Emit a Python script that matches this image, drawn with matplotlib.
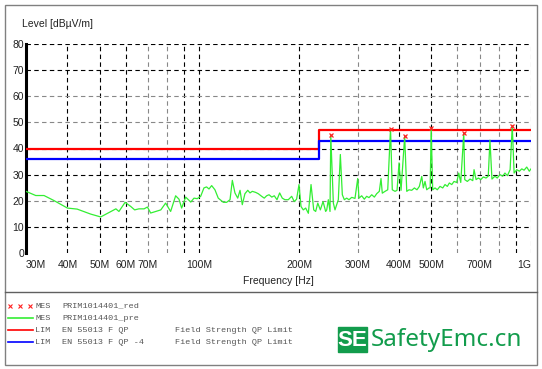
import matplotlib
matplotlib.use('Agg')
import matplotlib.pyplot as plt
from matplotlib.patches import Rectangle
from matplotlib.ticker import NullLocator

plt.rcParams['font.family'] = ['Liberation Sans Narrow', 'Liberation Sans', 'DejaVu Sans']

# pre-scan trace (MHz, dBuV/m)
freq_mhz = [30, 32.1, 34.0, 36.4, 40.0, 42.8, 47.0, 50.4, 54.1, 56.0, 57.2, 59.7, 62.1, 63.8,
            65.7, 68.1, 69.7, 71.3, 73.8, 76.5, 79.1, 81.9, 84.8, 86.8, 88.4, 90.9, 94.2, 96.3,
            98.5, 100.9, 103.2, 105.1, 106.9, 108.9, 111.4, 114.0, 118.1, 120.8, 123.7, 125.7,
            128.0, 130.5, 132.6, 134.7, 137.2, 139.9, 142.1, 144.4, 147.8, 150.5, 154.1, 156.9,
            159.5, 162.2, 165.3, 168.2, 171.4, 174.6, 177.8, 181.1, 185.4, 189.8, 193.2, 196.4,
            199.7, 202.5, 205.7, 209.2, 213.1, 217.1, 221.2, 224.2, 227.5, 231.6, 236.0, 240.3,
            242.1, 244.8, 247.7, 249, 253.5, 256.4, 259.5, 262.4, 266.1, 269.8, 273.6, 278.1,
            282.6, 288.0, 294.6, 300.2, 302.9, 308.6, 314.3, 319.5, 324.7, 330.9, 337.0, 342.5,
            348.8, 352.9, 356.1, 362.9, 369.8, 377, 381.7, 389.0, 394.5, 400, 405.6, 416, 422.0,
            428.7, 436.8, 445.0, 453.0, 460.6, 468.3, 473.5, 479.1, 484.8, 492.6, 496.5, 500,
            505.3, 513.5, 521.7, 531.7, 541.8, 550.5, 559.4, 567.2, 576.8, 586.0, 596.9, 605.5,
            614.0, 627, 631.2, 642.6, 655, 667.4, 673.4, 682.9, 693.8, 705.4, 718.2, 731.7,
            743.2, 752, 762.5, 778.5, 791.0, 806, 821.3, 834.5, 849.0, 865, 878, 889.3, 905.8,
            922.5, 938.0, 953.1, 970.8, 988.3, 1000]
level_db = [23.6, 22.0, 22.0, 20.1, 17.2, 16.8, 14.9, 13.8, 15.9, 16.9, 15.9, 19.4, 17.8, 16.5,
            16.9, 16.9, 17.6, 15.3, 15.9, 16.5, 19.1, 15.9, 21.9, 20.6, 17.2, 21.4, 19.5, 21.0,
            20.8, 21.7, 24.9, 25.3, 24.5, 25.8, 24.2, 21.0, 19.4, 19.4, 20.4, 27.8,
            23.0, 21.0, 24.0, 18.5, 22.7, 24.0, 23.0, 23.6, 23.2, 22.7, 21.7, 21.0,
            21.9, 22.3, 21.4, 21.9, 20.4, 23.0, 21.0, 20.4, 20.4, 21.7, 19.7, 20.6,
            26.2, 17.8, 16.5, 17.2, 15.2, 26.2, 16.5, 15.9, 19.1, 16.5, 19.7, 15.9,
            16.5, 20.4, 15.9, 45.0, 19.1, 16.5, 18.5, 20.4, 37.7, 22.3, 20.4, 21.0,
            20.4, 21.3, 20.9, 28.5, 21.0, 21.9, 20.6, 21.7, 21.2, 22.3, 21.4, 22.7,
            23.6, 28.5, 22.9, 23.6, 24.2, 47.6, 24.2, 23.6, 24.0, 34.5, 24.0, 44.7, 23.6,
            24.2, 24.0, 24.9, 24.2, 25.5, 29.3, 24.9, 27.4, 24.2, 24.9, 24.9, 48.0,
            24.2, 24.9, 24.2, 25.5, 24.9, 26.2, 25.5, 26.8, 26.2, 27.4, 27.0, 30.6,
            27.0, 46.0, 28.1, 27.4, 28.3, 27.7, 31.9, 28.1, 28.7, 28.1, 29.1, 28.7,
            29.4, 43.2, 28.3, 29.4, 28.7, 30.0, 29.4, 30.6, 29.6, 31.9, 48.8, 30.6, 31.9,
            31.3, 32.2, 31.7, 32.9, 31.3, 32.2]

# final measurement points
mes_freq = [249, 377, 416, 500, 627, 878]
mes_level = [45.0, 47.6, 44.7, 48.0, 46.0, 48.8]

# limits
lim_freq = [30, 230, 230, 1000]
qp_limit = [40, 40, 47, 47]
qp_limit_4 = [36, 36, 43, 43]

xtick_vals = [30, 40, 50, 60, 70, 100, 200, 300, 400, 500, 700, 1000]
xtick_text = ['30M', '40M', '50M', '60M', '70M', '100M', '200M', '300M', '400M', '500M', '700M', '1G']

vgrid = [40, 50, 60, 70, 80, 90, 100, 200, 300, 400, 500, 600, 700, 800, 900, 1000]
vgrid_col = ['k', 'k', 'k', '#888888', '#888888', 'k', 'k', 'k', '#888888', 'k', 'k',
             '#888888', '#888888', '#888888', 'k', '#888888']
hgrid = [10, 20, 30, 40, 50, 60, 70, 80]
hgrid_col = ['k', '#888888', 'k', 'k', '#888888', '#888888', 'k', 'k']

fig = plt.figure(figsize=(5.42, 3.69), dpi=100)

# background / frame in pixel coordinates
bg = fig.add_axes([0, 0, 1, 1])
bg.set_xlim(0, 542)
bg.set_ylim(369, 0)
bg.axis('off')
bg.add_patch(Rectangle((5, 5), 532, 360, fill=False, ec='#808080', lw=1))
bg.plot([5, 537], [292, 292], color='#606060', lw=1)

ax = fig.add_axes([26 / 542, 1 - 253 / 369, 505 / 542, 209 / 369])
ax.patch.set_alpha(0)
ax.set_xscale('log')
ax.set_xlim(30, 1000)
ax.set_ylim(0, 80)

for v, c in zip(vgrid, vgrid_col):
    ax.axvline(v, color=c, lw=0.8, ls=(0, (4, 3)), zorder=1)
for h, c in zip(hgrid, hgrid_col):
    ax.axhline(h, color=c, lw=0.8, ls=(0, (4, 3)), zorder=1)

ax.plot(lim_freq, qp_limit, color='#ff0000', lw=1.6, zorder=3)
ax.plot(lim_freq, qp_limit_4, color='#0000ff', lw=1.6, zorder=3)
ax.plot(freq_mhz, level_db, color='#33ee33', lw=0.9, zorder=4)
ax.plot(mes_freq, mes_level, ls='none', marker='x', ms=3.5, mew=0.9, color='#ff2020', zorder=5)

for s in ['top', 'right', 'bottom']:
    ax.spines[s].set_visible(False)
ax.spines['left'].set_linewidth(2.2)
ax.spines['left'].set_color('black')

ax.set_yticks(range(0, 81, 10))
ax.xaxis.set_minor_locator(NullLocator())
ax.set_xticks(xtick_vals)
ax.set_xticklabels(xtick_text)
ax.tick_params(axis='both', length=0, labelsize=7.5, colors='#222222')
ax.tick_params(axis='y', pad=1.5)
ax.tick_params(axis='x', pad=5)
lbls = ax.get_xticklabels()
lbls[0].set_horizontalalignment('left')
lbls[-1].set_horizontalalignment('right')

bg.text(22, 24, 'Level [dBµV/m]', fontsize=7.5, color='#222222', va='center', ha='left')
bg.text(278, 281, 'Frequency [Hz]', fontsize=7.5, color='#222222', va='center', ha='center')

# legend block
mono = 'Liberation Mono'
rows_y = [306, 318, 330.5, 342.5]
bg.plot([10, 20, 30], [306, 306, 306], ls='none', marker='x', ms=3, mew=0.8, color='#ff2020')
bg.plot([8, 33], [317.5, 317.5], color='#33ee33', lw=1.2)
bg.plot([8, 33], [330, 330], color='#ff0000', lw=1.2)
bg.plot([8, 33], [341.7, 341.7], color='#0000ff', lw=1.2)
col1 = ['MES', 'MES', 'LIM', 'LIM']
col2 = ['PRIM1014401_red', 'PRIM1014401_pre', 'EN 55013 F QP', 'EN 55013 F QP -4']
col3 = ['', '', 'Field Strength QP Limit', 'Field Strength QP Limit']
for y, a, b, c in zip(rows_y, col1, col2, col3):
    bg.text(35, y, a, family=mono, fontsize=6.1, color='#555555', va='center')
    bg.text(62, y, b, family=mono, fontsize=6.1, color='#555555', va='center')
    bg.text(175, y, c, family=mono, fontsize=6.1, color='#555555', va='center')

# logo
green = '#129c4c'
bg.add_patch(Rectangle((337.5, 327.3), 29, 25, color=green))
bg.text(352, 340.5, 'SE', color='white', fontsize=16, fontweight='bold', ha='center', va='center',
        family='Liberation Sans')
bg.text(371, 339.5, 'SafetyEmc.cn', color=green, fontsize=17.5, ha='left', va='center',
        family='Noto Sans')

fig.savefig('out.png', dpi=100)
